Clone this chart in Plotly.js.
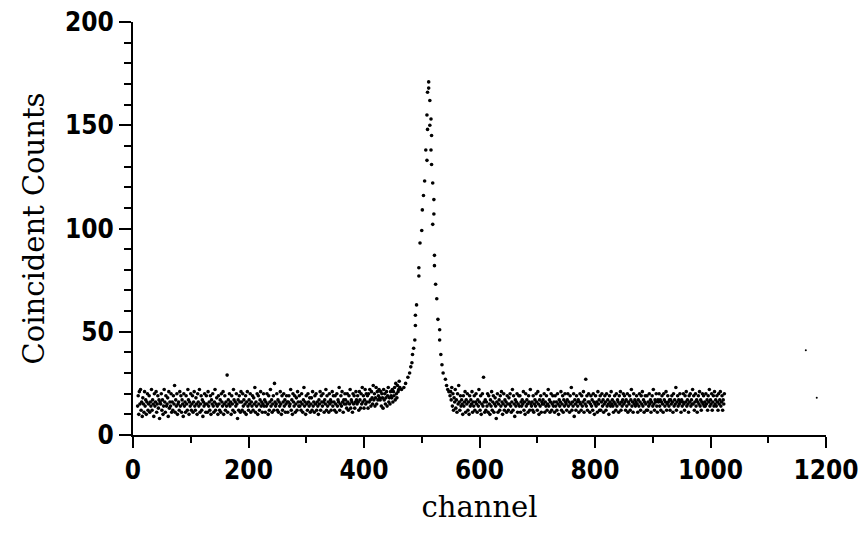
<!DOCTYPE html>
<html>
<head>
<meta charset="utf-8">
<script src="https://cdn.plot.ly/plotly-3.0.1.min.js"></script>
<style>html,body{margin:0;padding:0;background:#fff;}#chart{width:861px;height:534px;}</style>
</head>
<body>
<div id="chart"></div>
<script>
// Left background: counts for consecutive channels starting at leftStart
const leftStart = 8;
const leftCounts = [
14,19,10,21,15,22,12,16,9,18,15,11,21,14,17,10,16,20,12,15,
19,11,16,14,22,12,17,15,9,20,14,16,21,11,15,19,13,17,8,16,
15,20,12,17,10,14,22,16,11,19,14,15,18,9,21,13,16,14,20,11,
16,12,19,15,24,11,17,14,20,10,15,16,12,21,14,19,11,17,15,9,
20,14,16,11,19,15,12,22,17,10,16,14,20,12,15,19,11,16,21,14,
12,18,15,10,20,16,14,22,11,15,19,12,17,9,16,14,20,15,11,19,
15,11,21,14,16,12,19,10,17,15,20,14,11,16,22,12,15,18,14,10,
19,15,12,17,11,20,16,14,21,10,15,19,12,16,14,29,11,17,15,20,
14,16,10,19,15,12,22,17,11,16,14,20,15,8,17,12,19,16,11,21,
16,12,20,14,17,11,15,19,10,16,21,14,12,17,15,20,11,16,14,19,
12,18,15,23,11,16,14,20,10,19,15,12,17,21,14,16,11,15,20,14,
17,11,16,14,20,15,10,19,12,16,22,14,17,11,15,19,12,25,16,14,
15,20,12,17,11,16,14,21,15,10,19,12,16,20,14,17,11,15,19,16,
11,16,19,14,15,22,12,17,10,20,16,14,19,11,15,18,12,21,16,14,
19,14,16,12,20,15,11,17,23,14,16,10,19,15,12,20,16,14,18,11,
15,18,12,21,14,16,11,19,15,20,12,16,14,10,17,15,21,12,19,16,
14,20,16,11,17,15,22,12,19,14,16,11,20,15,17,12,16,21,14,19,
16,12,19,15,11,20,14,17,16,23,12,15,19,14,21,16,11,17,15,20,
17,15,13,20,16,12,19,15,22,13,17,16,11,20,15,19,13,16,21,17,
15,19,16,12,21,17,13,20,15,23,16,19,13,17,22,15,20,16,19,13,
20,16,22,17,14,21,18,15,24,17,20,14,18,23,15,21,17,19,22,18,
17,21,14,20,18,13,22,17,20,15,18,21,14,19,23,16,18,15,21,19,
18,22,16,21,19,23,17,25,20,18,24,21,22,26,23
];

// Peak region: explicit channel / count pairs
const peakChannels = [465,469,472,476,479,481,483,484,486,488,489,489,491,495,495,497,500,501,503,505,507,509,510,512,512,514,516,514,510,517,516,509,517,519,521,521,519,522,522,524,526,528,531,531,533,535,537,541,543,545,547,549];
const peakCounts   = [22, 23, 25, 28, 30, 33, 35, 39, 42, 46, 53, 58, 63, 77, 81, 93, 99, 109,116,123,138,155,166,171,168,162,153,150,148,145,138,133,131,122,114,107,102,87, 82, 73, 66, 56, 51, 46, 39, 34, 30, 27, 24, 22, 21, 19];

// Right background: counts for consecutive channels starting at rightStart
const rightStart = 550;
const rightCounts = [
21,17,23,14,20,12,18,16,22,13,17,11,20,15,24,16,12,19,14,17,
15,10,19,14,16,21,11,17,15,20,12,16,10,19,14,17,15,21,11,16,
14,19,12,16,20,15,11,17,14,22,16,12,19,10,15,20,14,28,16,11,
17,12,16,14,20,11,19,15,10,17,14,21,12,16,19,11,15,18,14,8,
16,20,11,15,17,12,19,14,21,16,10,15,20,12,17,14,16,11,19,15,
12,18,15,20,14,11,16,22,12,19,15,9,17,14,16,20,11,15,19,14,
19,11,16,14,17,15,21,12,16,10,20,14,17,15,11,19,16,12,22,15,
14,16,12,19,11,15,17,14,20,16,12,21,15,10,17,14,19,11,16,15,
17,15,20,11,16,14,19,12,15,22,14,17,11,16,20,12,15,19,14,16,
11,19,14,16,12,20,15,10,17,14,16,21,12,15,19,11,17,14,20,16,
15,12,17,20,14,16,11,19,15,23,12,16,14,20,9,17,15,12,19,16,
14,17,11,16,20,15,12,19,14,16,21,11,17,15,27,14,19,12,16,20,
16,11,15,19,14,17,12,20,16,10,15,19,14,16,11,21,15,17,12,19,
12,16,20,14,17,11,15,19,16,12,20,14,17,15,10,19,16,14,21,15,
17,14,11,16,19,15,12,20,14,17,16,11,19,15,21,12,16,14,17,20,
15,19,16,12,17,14,20,11,16,15,19,12,17,22,14,16,11,20,15,17,
14,16,19,15,11,17,14,20,16,12,19,15,21,14,17,11,16,19,15,12,
19,12,16,14,20,15,17,11,16,19,14,22,15,12,17,16,20,14,11,17,
16,20,14,17,12,16,19,15,11,20,17,14,16,21,12,15,19,16,14,17,
12,17,15,19,16,11,20,14,17,15,23,12,16,19,14,17,15,20,16,11,
17,14,16,20,15,12,19,16,21,14,17,15,11,19,16,20,14,17,15,22,
15,19,12,16,20,14,17,11,16,19,15,21,14,17,12,16,20,15,19,14,
16,14,20,15,17,12,19,16,22,14,17,15,20,12,16,19,14,21,15,17,
14,19,16,12,20,15,17,21,14,16,19,12,17,15,20
];

// Isolated specks beyond the data
const strayChannels = [1165, 1184];
const strayCounts = [41, 18];

const xTicks = [0,200,400,600,800,1000,1200];
const yTicks = [0,50,100,150,200];

const leftX = leftCounts.map((_, i) => leftStart + i);
const rightX = rightCounts.map((_, i) => rightStart + i);

const dot = {color: '#000', size: 3.6, line: {width: 0}};
const traces = [
  {x: leftX, y: leftCounts, type: 'scatter', mode: 'markers', marker: dot, hoverinfo: 'x+y'},
  {x: peakChannels, y: peakCounts, type: 'scatter', mode: 'markers', marker: dot, hoverinfo: 'x+y'},
  {x: rightX, y: rightCounts, type: 'scatter', mode: 'markers', marker: dot, hoverinfo: 'x+y'},
  {x: strayChannels, y: strayCounts, type: 'scatter', mode: 'markers', marker: {color: '#000', size: 2}, hoverinfo: 'x+y'}
];

const tickFont = {family: 'DejaVu Sans Condensed, DejaVu Sans, sans-serif', size: 26, color: '#000', weight: 'bold'};
const titleFont = {family: 'DejaVu Serif, serif', size: 29, color: '#000'};

const layout = {
  width: 861, height: 534,
  margin: {l: 133, r: 35, t: 22, b: 99},
  paper_bgcolor: '#fff', plot_bgcolor: '#fff',
  showlegend: false,
  xaxis: {
    range: [0, 1200], tickvals: xTicks, ticktext: xTicks.map(String),
    showgrid: false, zeroline: false, showline: true, linecolor: '#000', linewidth: 2,
    ticks: 'outside', ticklen: 11, tickwidth: 2, tickcolor: '#000',
    minor: {dtick: 100, tick0: 0, ticks: 'outside', ticklen: 6, tickwidth: 2, tickcolor: '#000', showgrid: false},
    tickfont: tickFont,
    title: {text: 'channel', font: titleFont, standoff: 12}
  },
  yaxis: {
    range: [0, 200], tickvals: yTicks, ticktext: yTicks.map(String),
    showgrid: false, zeroline: false, showline: true, linecolor: '#000', linewidth: 2,
    ticks: 'outside', ticklen: 12, tickwidth: 2, tickcolor: '#000',
    minor: {dtick: 10, tick0: 0, ticks: 'outside', ticklen: 7, tickwidth: 2, tickcolor: '#000', showgrid: false},
    tickfont: tickFont,
    title: {text: 'Coincident Counts', font: titleFont, standoff: 12}
  }
};

Plotly.newPlot('chart', traces, layout, {staticPlot: true, displayModeBar: false});
</script>
</body>
</html>
